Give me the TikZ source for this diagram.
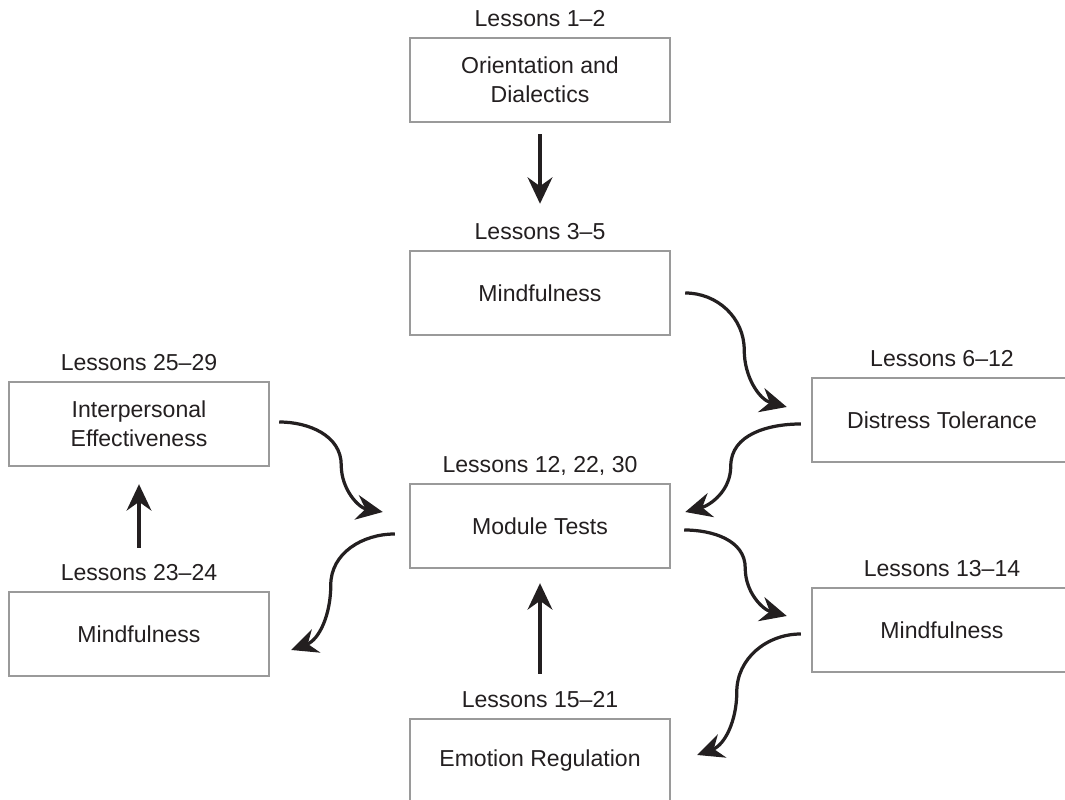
\documentclass[tikz,border=0pt]{standalone}
\usepackage{fontspec}
\setmainfont{Liberation Sans}
\usepackage{tikz}
\usetikzlibrary{arrows.meta,positioning,calc}
\definecolor{boxgray}{HTML}{9A9A9A}
\definecolor{inkdark}{HTML}{231F20}

\begin{document}
\begin{tikzpicture}[
  x=0.025cm,y=0.025cm,
  font=\fontsize{16.4}{20.5}\selectfont,
  text=inkdark,
  lesson/.style={draw=boxgray,line width=1.7pt,minimum width=6.5cm,minimum height=2.1cm,align=center,inner sep=2pt},
  lab/.style={inner sep=0pt,text depth=0pt},
  flow/.style={draw=inkdark,line width=2.3pt,-{Stealth[length=0.66cm,width=0.62cm,inset=0.22cm]}}
]
\useasboundingbox (0,0) rectangle (1065,800);

% modules
\node[lesson] (orient) at (540,720) {Orientation and\\Dialectics};
\node[lab,above=0.24cm of orient] (orientlab) {Lessons 1–2};
\node[lesson] (mind1) at (540,507) {Mindfulness};
\node[lab,above=0.24cm of mind1] (mind1lab) {Lessons 3–5};
\node[lesson] (dist) at (942,380) {Distress Tolerance};
\node[lab,above=0.24cm of dist] (distlab) {Lessons 6–12};
\node[lesson] (inter) at (139,376) {Interpersonal\\Effectiveness};
\node[lab,above=0.24cm of inter] (interlab) {Lessons 25–29};
\node[lesson] (test) at (540,274) {Module Tests};
\node[lab,above=0.24cm of test] (testlab) {Lessons 12, 22, 30};
\node[lesson] (mind3) at (139,166) {Mindfulness};
\node[lab,above=0.24cm of mind3] (mind3lab) {Lessons 23–24};
\node[lesson] (mind2) at (942,170) {Mindfulness};
\node[lab,above=0.24cm of mind2] (mind2lab) {Lessons 13–14};
\node[lesson] (emo) at (540,39) {Emotion Regulation};
\node[lab,above=0.24cm of emo] (emolab) {Lessons 15–21};

% sequence
\draw[flow] ([shift={(0,-11)}]orient.south) -- ([shift={(0,46)}]mind1.north);
\draw[flow] ([shift={(14,0)}]mind1.east) to[out=0,in=90] ++(59,-57) to[out=-90,in=165] ([shift={(-24,13)}]dist.west);
\draw[flow] ([shift={(-10,-4)}]dist.west) to[out=180,in=90] ++(-70,-42) to[out=-90,in=15] ([shift={(14,14)}]test.east);
\draw[flow] ([shift={(13,-4)}]test.east) to[out=0,in=90] ++(61,-38) to[out=-90,in=165] ([shift={(-24,14)}]mind2.west);
\draw[flow] ([shift={(-10,-4)}]mind2.west) to[out=180,in=90] ++(-64,-58) to[out=-90,in=20] ([shift={(26,6)}]emo.east);
\draw[flow] ([shift={(0,44)}]emo.north) -- ([shift={(0,-14)}]test.south);
\draw[flow] ([shift={(-14,-8)}]test.west) to[out=180,in=90] ++(-64,-51) to[out=-90,in=20] ([shift={(21,-16)}]mind3.east);
\draw[flow] ([shift={(0,43)}]mind3.north) -- ([shift={(0,-17)}]inter.south);
\draw[flow] ([shift={(9,2)}]inter.east) to[out=0,in=90] ++(62,-43) to[out=-90,in=170] ([shift={(-26,14)}]test.west);
\end{tikzpicture}
\end{document}
